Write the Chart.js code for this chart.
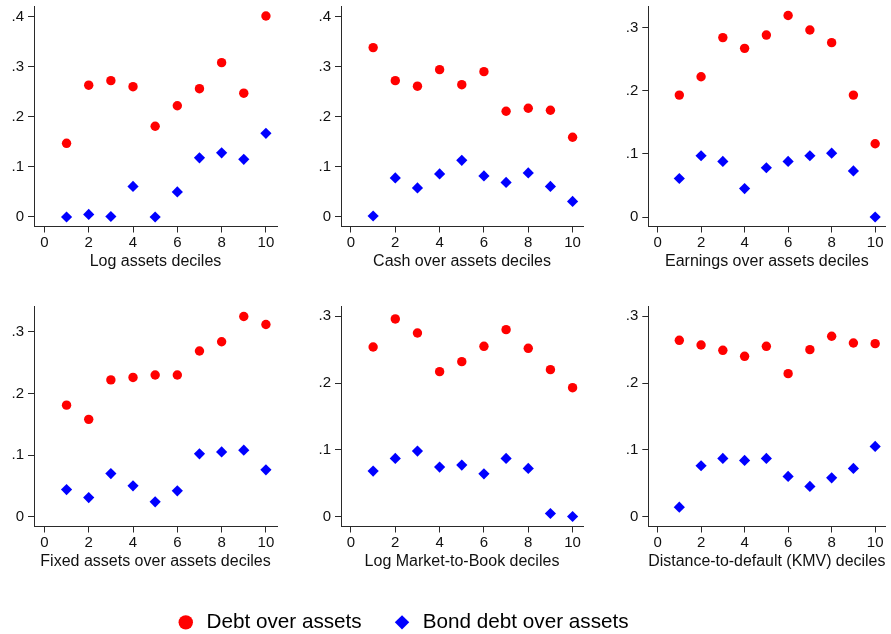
<!DOCTYPE html>
<html>
<head>
<meta charset="utf-8">
<script src="https://cdn.jsdelivr.net/npm/chart.js@4.4.0/dist/chart.umd.min.js"></script>
<style>
html,body{margin:0;padding:0;background:#fff;width:891px;height:634px;overflow:hidden;}
.box{position:absolute;}
</style>
</head>
<body>
<div id="root"></div>
<script>
// ---- data ----
const deciles = [1, 2, 3, 4, 5, 6, 7, 8, 9, 10];
const xTicks = [0, 2, 4, 6, 8, 10];
const yTicksTall = [0, 0.1, 0.2, 0.3, 0.4];
const yTicksShort = [0, 0.1, 0.2, 0.3];
const seriesNames = ['Debt over assets', 'Bond debt over assets'];
const panelTitles = [
  'Log assets deciles',
  'Cash over assets deciles',
  'Earnings over assets deciles',
  'Fixed assets over assets deciles',
  'Log Market-to-Book deciles',
  'Distance-to-default (KMV) deciles'
];
const debtLogAssets = [0.147, 0.263, 0.272, 0.260, 0.181, 0.222, 0.256, 0.308, 0.247, 0.401];
const bondLogAssets = [0.000, 0.005, 0.001, 0.061, 0.000, 0.050, 0.118, 0.128, 0.115, 0.167];
const debtCash = [0.338, 0.272, 0.261, 0.294, 0.264, 0.290, 0.211, 0.217, 0.213, 0.159];
const bondCash = [0.002, 0.078, 0.058, 0.086, 0.113, 0.082, 0.069, 0.088, 0.061, 0.031];
const debtEarnings = [0.193, 0.222, 0.284, 0.267, 0.288, 0.319, 0.296, 0.276, 0.193, 0.116];
const bondEarnings = [0.061, 0.097, 0.088, 0.045, 0.078, 0.088, 0.097, 0.101, 0.073, 0.000];
const debtFixed = [0.181, 0.158, 0.222, 0.226, 0.230, 0.230, 0.269, 0.284, 0.325, 0.312];
const bondFixed = [0.044, 0.031, 0.070, 0.050, 0.024, 0.042, 0.102, 0.105, 0.108, 0.076];
const debtMtb = [0.254, 0.296, 0.275, 0.217, 0.232, 0.255, 0.280, 0.252, 0.220, 0.193];
const bondMtb = [0.068, 0.087, 0.098, 0.074, 0.077, 0.064, 0.087, 0.072, 0.0045, 0.000];
const debtDtd = [0.264, 0.257, 0.249, 0.240, 0.255, 0.214, 0.250, 0.270, 0.260, 0.259];
const bondDtd = [0.014, 0.076, 0.087, 0.084, 0.087, 0.060, 0.045, 0.058, 0.072, 0.105];

const panelDebt = [debtLogAssets, debtCash, debtEarnings, debtFixed, debtMtb, debtDtd];
const panelBond = [bondLogAssets, bondCash, bondEarnings, bondFixed, bondMtb, bondDtd];
const panelYTicks = [yTicksTall, yTicksTall, yTicksShort, yTicksShort, yTicksShort, yTicksShort];

// ---- layout / style ----
const FONT = "'Liberation Sans', Arial, Helvetica, sans-serif";
const RED = 'rgb(255,0,0)';
const BLUE = 'rgb(0,0,255)';
const AXIS = '#2a2a2a';
const panelLayout = [
  {left: 0,   top: 0,   yW: 34,   padR: 20, xMin: -0.47,  xMax: 10.5,  yMin: -0.019, yMax: 0.421},
  {left: 300, top: 0,   yW: 41,   padR: 14, xMin: -0.45,  xMax: 10.47, yMin: -0.019, yMax: 0.421},
  {left: 594, top: 0,   yW: 54.3, padR: 2,  xMin: -0.425, xMax: 10.47, yMin: -0.015, yMax: 0.334},
  {left: 0,   top: 300, yW: 34,   padR: 20, xMin: -0.47,  xMax: 10.5,  yMin: -0.016, yMax: 0.342},
  {left: 300, top: 300, yW: 41,   padR: 14, xMin: -0.45,  xMax: 10.47, yMin: -0.015, yMax: 0.3154},
  {left: 594, top: 300, yW: 54.3, padR: 2,  xMin: -0.425, xMax: 10.47, yMin: -0.015, yMax: 0.3154}
];
const BOX_W = 297, BOX_H = 271, PAD_T = 6, X_AXIS_H = 44.5;

function fmtY(v) {
  if (Math.abs(v) < 1e-9) return '0';
  return v.toFixed(1).replace(/^0/, '');
}
function noScalePadding(s) {
  s.paddingTop = 0; s.paddingBottom = 0; s.paddingLeft = 0; s.paddingRight = 0;
}

const root = document.getElementById('root');
function makeBox(left, top, w, h) {
  const d = document.createElement('div');
  d.className = 'box';
  d.style.left = left + 'px'; d.style.top = top + 'px';
  d.style.width = w + 'px'; d.style.height = h + 'px';
  const c = document.createElement('canvas');
  d.appendChild(c);
  root.appendChild(d);
  return c;
}

panelLayout.forEach((L, i) => {
  const canvas = makeBox(L.left, L.top, BOX_W, BOX_H);
  const yTicks = panelYTicks[i];
  new Chart(canvas, {
    type: 'scatter',
    data: {
      datasets: [
        {
          label: seriesNames[0],
          data: deciles.map((d, k) => ({x: d, y: panelDebt[i][k]})),
          pointStyle: 'circle', pointRadius: 4.7, pointBorderWidth: 0,
          backgroundColor: RED, borderColor: RED
        },
        {
          label: seriesNames[1],
          data: deciles.map((d, k) => ({x: d, y: panelBond[i][k]})),
          pointStyle: 'rectRot', pointRadius: 5.6, pointBorderWidth: 0,
          backgroundColor: BLUE, borderColor: BLUE
        }
      ]
    },
    options: {
      responsive: true, maintainAspectRatio: false, animation: false,
      layout: {padding: {left: 0, right: L.padR, top: PAD_T, bottom: 0}},
      plugins: {legend: {display: false}, tooltip: {enabled: false}},
      scales: {
        x: {
          type: 'linear', position: 'bottom', min: L.xMin, max: L.xMax,
          afterBuildTicks: s => { s.ticks = xTicks.map(v => ({value: v})); },
          afterFit: s => { s.height = X_AXIS_H; noScalePadding(s); },
          border: {display: true, color: AXIS, width: 1},
          grid: {display: true, drawOnChartArea: false, drawTicks: true, tickLength: 6, color: AXIS, lineWidth: 1},
          ticks: {color: '#111', padding: 3, maxRotation: 0, autoSkip: false,
                  font: {family: FONT, size: 15, lineHeight: 1},
                  callback: v => String(v)},
          title: {display: true, text: panelTitles[i], color: '#111',
                  font: {family: FONT, size: 16}, padding: {top: 0, bottom: 0}}
        },
        y: {
          type: 'linear', position: 'left', min: L.yMin, max: L.yMax,
          afterBuildTicks: s => { s.ticks = yTicks.map(v => ({value: v})); },
          afterFit: s => { s.width = L.yW; noScalePadding(s); },
          border: {display: true, color: AXIS, width: 1},
          grid: {display: true, drawOnChartArea: false, drawTicks: true, tickLength: 6, color: AXIS, lineWidth: 1},
          ticks: {color: '#111', padding: 4, autoSkip: false,
                  font: {family: FONT, size: 15, lineHeight: 1},
                  callback: v => fmtY(v)}
        }
      }
    }
  });
});

// ---- legend (Chart.js legend of an empty chart) ----
const legendCanvas = makeBox(122, 582, 560, 140);
new Chart(legendCanvas, {
  type: 'scatter',
  data: {
    datasets: [
      {label: seriesNames[0], data: [], pointStyle: 'circle', backgroundColor: RED, borderColor: RED},
      {label: seriesNames[1], data: [], pointStyle: 'rectRot', backgroundColor: BLUE, borderColor: BLUE}
    ]
  },
  options: {
    responsive: true, maintainAspectRatio: false, animation: false,
    layout: {padding: 0},
    scales: {x: {display: false}, y: {display: false}},
    plugins: {
      tooltip: {enabled: false},
      legend: {
        display: true, position: 'top', align: 'center',
        labels: {
          usePointStyle: true, boxHeight: 10.2, padding: 30,
          color: '#000', font: {family: FONT, size: 20.7},
          generateLabels: chart => chart.data.datasets.map((ds, k) => ({
            text: ds.label, fillStyle: ds.backgroundColor, strokeStyle: ds.borderColor,
            lineWidth: 0, pointStyle: ds.pointStyle, hidden: false, datasetIndex: k
          }))
        }
      }
    }
  }
});
</script>
</body>
</html>
